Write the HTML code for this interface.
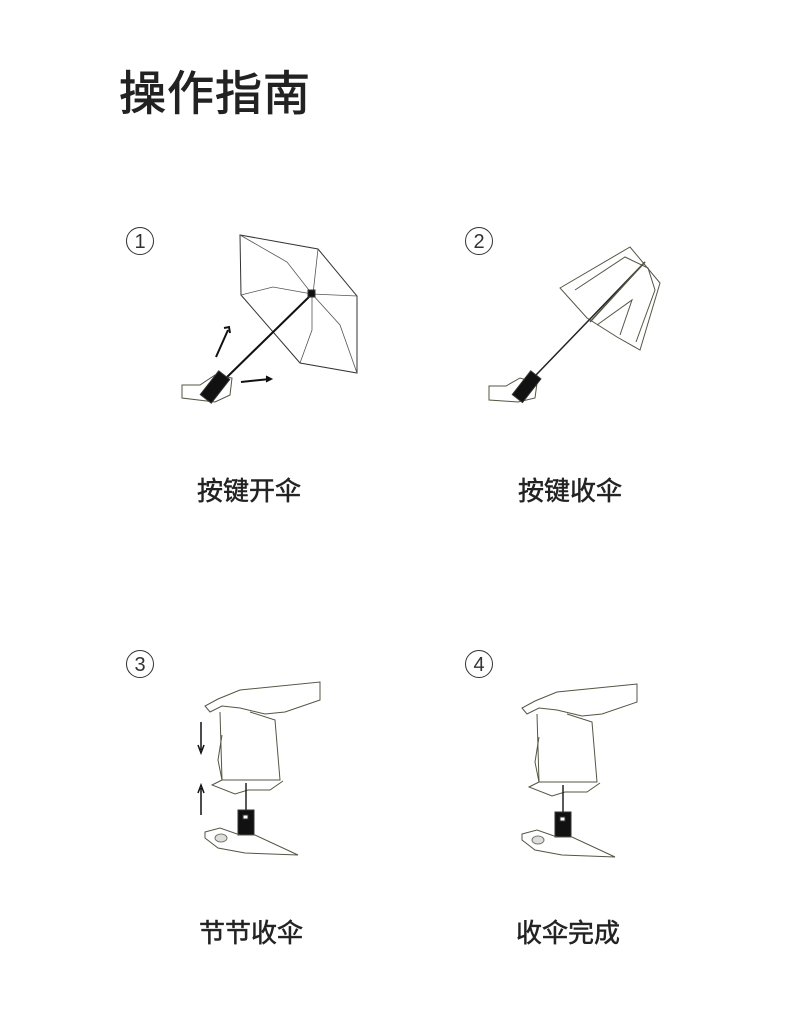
<!DOCTYPE html>
<html><head><meta charset="utf-8"><style>
body{margin:0;background:#fff;}
.w{position:relative;width:790px;height:1030px;overflow:hidden;font-family:"Liberation Sans","Noto Sans CJK SC",sans-serif;color:#222;}
.t{position:absolute;left:119px;top:55px;font-size:47px;font-weight:normal;letter-spacing:1px;-webkit-text-stroke:0.9px #222;}
.l{position:absolute;font-size:26px;width:200px;text-align:center;font-weight:normal;-webkit-text-stroke:0.5px #222;}
</style></head><body><div class="w">
<div class="t">操作指南</div>
<div class="l" style="left:149px;top:471px">按键开伞</div>
<div class="l" style="left:470px;top:471px">按键收伞</div>
<div class="l" style="left:151px;top:913px">节节收伞</div>
<div class="l" style="left:468px;top:913px">收伞完成</div>
<svg width="790" height="1030" style="position:absolute;left:0;top:0" fill="none" stroke="#333" stroke-width="1">
<g font-family="Liberation Sans" font-size="20" fill="#333" stroke="none" text-anchor="middle">
<text x="140" y="248">1</text><text x="479" y="248">2</text><text x="140" y="671">3</text><text x="479" y="671">4</text></g>
<circle cx="140" cy="241" r="13.5"/><circle cx="479" cy="241" r="13.5"/><circle cx="140" cy="664" r="13.5"/><circle cx="479" cy="664" r="13.5"/>
<!-- fig1 -->
<path d="M240 235 L318 249 L357 296 L357 373 L300 363 L241 295 Z"/>
<path d="M240 235 L287 262 L312 294 M318 249 L313 294 M357 296 L312 294 M357 373 L340 325 L312 294 M300 363 L312 330 L312 294 M241 295 L273 287 L312 294" stroke="#555" stroke-width="0.8"/>
<line x1="224" y1="380" x2="312" y2="294" stroke="#111" stroke-width="2"/>
<rect x="308" y="290" width="7" height="7" fill="#111"/>
<path d="M182 385 L200 385 L215 375 L232 378 L230 395 L215 402 L182 398 Z" stroke="#554"/>
<rect x="208" y="372" width="14" height="30" fill="#111" transform="rotate(38 215 387)"/>
<path d="M216 357 L228 330 M224 328 L229 327 L230 333" stroke="#111" stroke-width="2"/>
<path d="M241 382 L270 379" stroke="#111" stroke-width="2"/><path d="M266 376 L272 379 L266 382" fill="#111" stroke="#111"/>
<!-- fig2 -->
<path d="M560 288 L630 247 L660 283 L640 350 L617 337 L587 318 Z" stroke="#554"/>
<path d="M575 290 L625 257 L648 268 L655 290 L636 342 M597 325 L632 300 L620 335" stroke="#554"/>
<line x1="536" y1="375" x2="645" y2="262" stroke="#222" stroke-width="1.5"/>
<line x1="590" y1="322" x2="645" y2="262" stroke="#554" stroke-width="1.5"/>
<path d="M489 386 L506 386 L520 378 L537 383 L535 398 L518 402 L489 400 Z" stroke="#554"/>
<rect x="520" y="372" width="13" height="30" fill="#111" transform="rotate(38 527 387)"/>
<!-- fig3 -->
<g id="f">
<path d="M320 682 L320 700 L285 712 L265 714 L240 708 L222 706 L210 712 L205 706 L218 699 L240 690 Z" stroke="#554"/>
<path d="M220 712 L222 780 L280 780 L275 720 L250 712" stroke="#554"/>
<path d="M222 780 L212 785 L235 794 L248 790 L270 790 L283 781 M222 735 L218 760 L222 780" stroke="#554"/>
<line x1="246" y1="783" x2="246" y2="810" stroke="#222" stroke-width="1.5"/>
<rect x="238" y="810" width="16" height="25" fill="#111"/>
<rect x="243" y="815" width="5" height="4" fill="#fff"/>
<path d="M205 832 L220 828 L240 835 L255 835 L298 855 L245 853 L218 848 L205 838 Z" stroke="#554"/>
<ellipse cx="221" cy="838" rx="6" ry="4" fill="#ddd" stroke="#776"/>
</g>
<use href="#f" transform="translate(317 2)"/>
<path d="M201 722 L201 750 M198 745 L201 753 L204 745" stroke="#111" stroke-width="1.5"/>
<path d="M201 815 L201 788 M198 793 L201 785 L204 793" stroke="#111" stroke-width="1.5"/>
</svg>
</div></body></html>
